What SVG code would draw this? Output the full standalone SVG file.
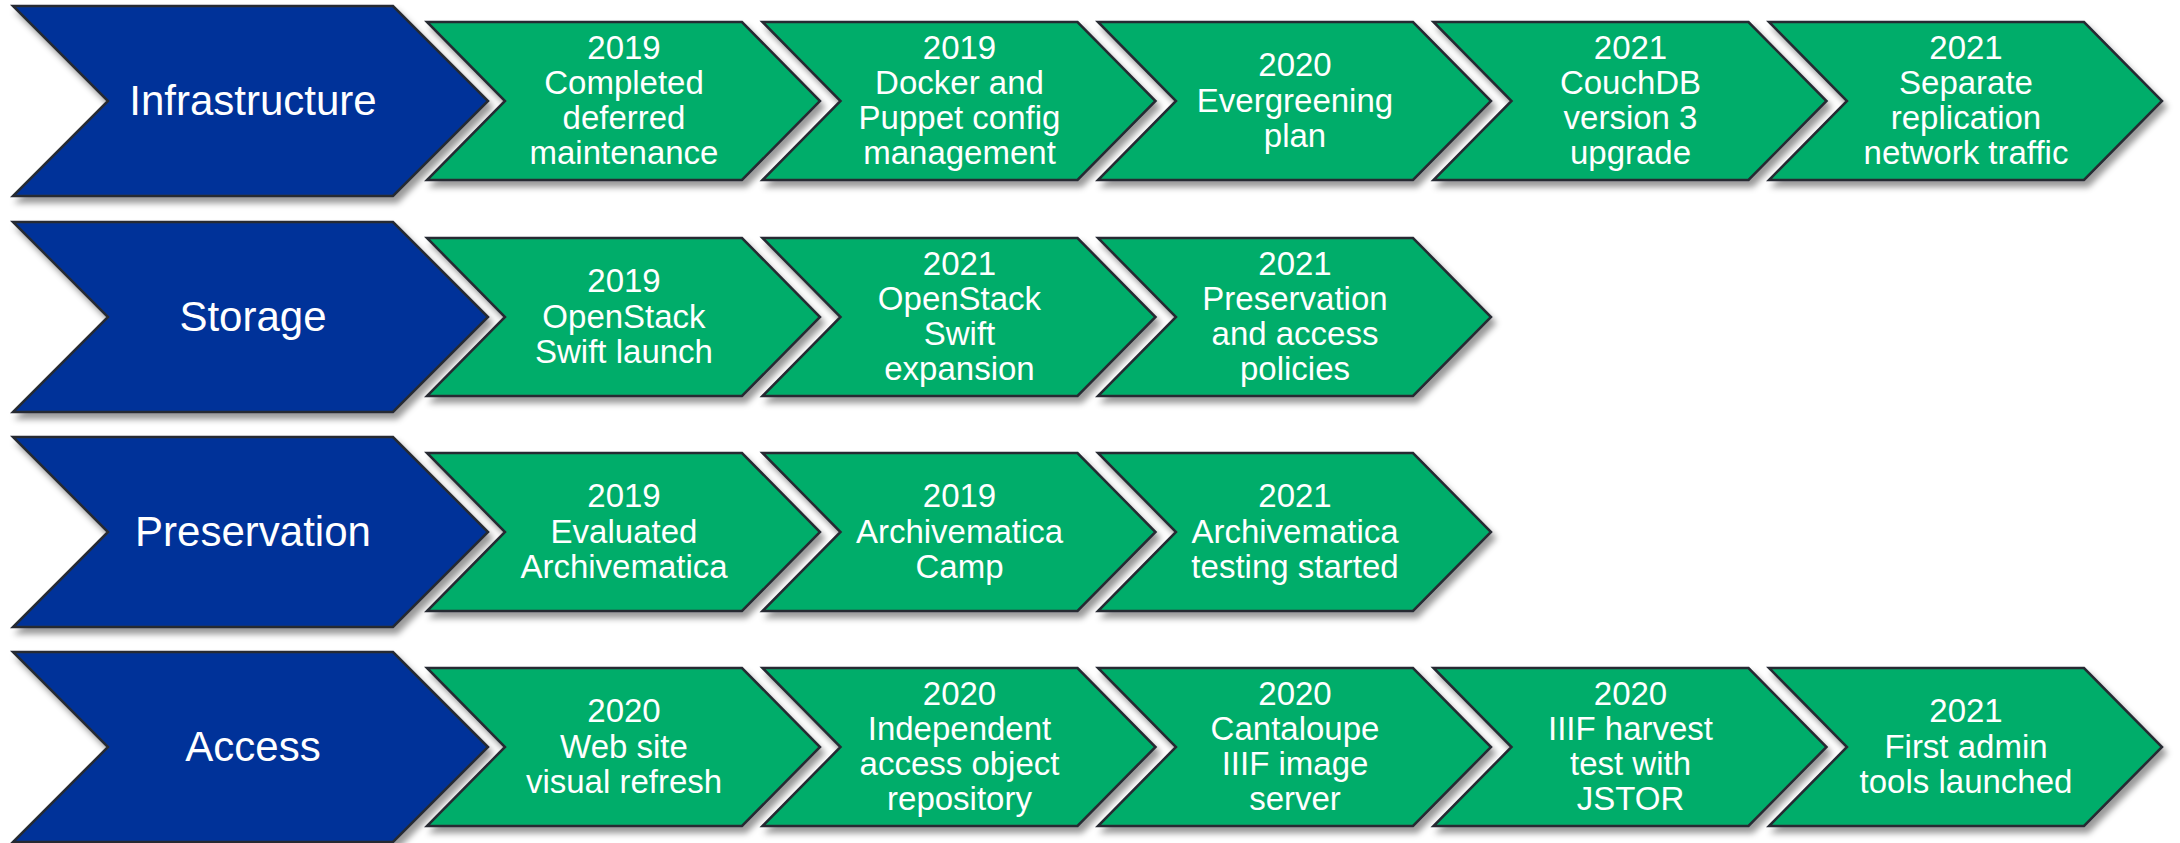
<svg xmlns="http://www.w3.org/2000/svg" xmlns:xlink="http://www.w3.org/1999/xlink" width="2180" height="843" viewBox="0 0 2180 843">
<defs>
<filter id="sh" x="-5%" y="-10%" width="115%" height="130%">
<feDropShadow dx="4" dy="6" stdDeviation="3" flood-color="#000" flood-opacity="0.4"/>
</filter>
<polygon id="blueShape" points="13,-95 393,-95 488,0 393,95 13,95 108,0"/>
<polygon id="greenShape" points="0,-79 315,-79 393,0 315,79 0,79 78,0"/>
</defs>
<style>
.blue{fill:#003399;stroke:#252a33;stroke-width:2.5;stroke-linejoin:miter;filter:url(#sh)}
.green{fill:#00AD6A;stroke:#252a33;stroke-width:2.5;stroke-linejoin:miter;filter:url(#sh)}
.lbl{font-family:"Liberation Sans",Arial,sans-serif;font-size:42px;fill:#fff;text-anchor:middle}
.t{font-family:"Liberation Sans",Arial,sans-serif;font-size:33px;fill:#fff;text-anchor:middle}
</style>
<rect width="2180" height="843" fill="#fff"/>
<g id="connectors"/>

<!-- Row 1 -->
<g id="infrastructure" transform="translate(0,101)"><use href="#blueShape" class="blue"/><text class="lbl" x="253" y="14">Infrastructure</text></g>
<g id="r1n1" transform="translate(427,101)"><use href="#greenShape" class="green"/><text class="t"><tspan x="197" y="-42">2019</tspan><tspan x="197" y="-7">Completed</tspan><tspan x="197" y="28">deferred</tspan><tspan x="197" y="63">maintenance</tspan></text></g>
<g id="r1n2" transform="translate(762.5,101)"><use href="#greenShape" class="green"/><text class="t"><tspan x="197" y="-42">2019</tspan><tspan x="197" y="-7">Docker and</tspan><tspan x="197" y="28">Puppet config</tspan><tspan x="197" y="63">management</tspan></text></g>
<g id="r1n3" transform="translate(1098,101)"><use href="#greenShape" class="green"/><text class="t"><tspan x="197" y="-25">2020</tspan><tspan x="197" y="10.5">Evergreening</tspan><tspan x="197" y="46">plan</tspan></text></g>
<g id="r1n4" transform="translate(1433.5,101)"><use href="#greenShape" class="green"/><text class="t"><tspan x="197" y="-42">2021</tspan><tspan x="197" y="-7">CouchDB</tspan><tspan x="197" y="28">version 3</tspan><tspan x="197" y="63">upgrade</tspan></text></g>
<g id="r1n5" transform="translate(1769,101)"><use href="#greenShape" class="green"/><text class="t"><tspan x="197" y="-42">2021</tspan><tspan x="197" y="-7">Separate</tspan><tspan x="197" y="28">replication</tspan><tspan x="197" y="63">network traffic</tspan></text></g>

<!-- Row 2 -->
<g id="storage" transform="translate(0,317)"><use href="#blueShape" class="blue"/><text class="lbl" x="253" y="14">Storage</text></g>
<g id="r2n1" transform="translate(427,317)"><use href="#greenShape" class="green"/><text class="t"><tspan x="197" y="-25">2019</tspan><tspan x="197" y="10.5">OpenStack</tspan><tspan x="197" y="46">Swift launch</tspan></text></g>
<g id="r2n2" transform="translate(762.5,317)"><use href="#greenShape" class="green"/><text class="t"><tspan x="197" y="-42">2021</tspan><tspan x="197" y="-7">OpenStack</tspan><tspan x="197" y="28">Swift</tspan><tspan x="197" y="63">expansion</tspan></text></g>
<g id="r2n3" transform="translate(1098,317)"><use href="#greenShape" class="green"/><text class="t"><tspan x="197" y="-42">2021</tspan><tspan x="197" y="-7">Preservation</tspan><tspan x="197" y="28">and access</tspan><tspan x="197" y="63">policies</tspan></text></g>

<!-- Row 3 -->
<g id="preservation" transform="translate(0,532)"><use href="#blueShape" class="blue"/><text class="lbl" x="253" y="14">Preservation</text></g>
<g id="r3n1" transform="translate(427,532)"><use href="#greenShape" class="green"/><text class="t"><tspan x="197" y="-25">2019</tspan><tspan x="197" y="10.5">Evaluated</tspan><tspan x="197" y="46">Archivematica</tspan></text></g>
<g id="r3n2" transform="translate(762.5,532)"><use href="#greenShape" class="green"/><text class="t"><tspan x="197" y="-25">2019</tspan><tspan x="197" y="10.5">Archivematica</tspan><tspan x="197" y="46">Camp</tspan></text></g>
<g id="r3n3" transform="translate(1098,532)"><use href="#greenShape" class="green"/><text class="t"><tspan x="197" y="-25">2021</tspan><tspan x="197" y="10.5">Archivematica</tspan><tspan x="197" y="46">testing started</tspan></text></g>

<!-- Row 4 -->
<g id="access" transform="translate(0,747)"><use href="#blueShape" class="blue"/><text class="lbl" x="253" y="14">Access</text></g>
<g id="r4n1" transform="translate(427,747)"><use href="#greenShape" class="green"/><text class="t"><tspan x="197" y="-25">2020</tspan><tspan x="197" y="10.5">Web site</tspan><tspan x="197" y="46">visual refresh</tspan></text></g>
<g id="r4n2" transform="translate(762.5,747)"><use href="#greenShape" class="green"/><text class="t"><tspan x="197" y="-42">2020</tspan><tspan x="197" y="-7">Independent</tspan><tspan x="197" y="28">access object</tspan><tspan x="197" y="63">repository</tspan></text></g>
<g id="r4n3" transform="translate(1098,747)"><use href="#greenShape" class="green"/><text class="t"><tspan x="197" y="-42">2020</tspan><tspan x="197" y="-7">Cantaloupe</tspan><tspan x="197" y="28">IIIF image</tspan><tspan x="197" y="63">server</tspan></text></g>
<g id="r4n4" transform="translate(1433.5,747)"><use href="#greenShape" class="green"/><text class="t"><tspan x="197" y="-42">2020</tspan><tspan x="197" y="-7">IIIF harvest</tspan><tspan x="197" y="28">test with</tspan><tspan x="197" y="63">JSTOR</tspan></text></g>
<g id="r4n5" transform="translate(1769,747)"><use href="#greenShape" class="green"/><text class="t"><tspan x="197" y="-25">2021</tspan><tspan x="197" y="10.5">First admin</tspan><tspan x="197" y="46">tools launched</tspan></text></g>
</svg>
